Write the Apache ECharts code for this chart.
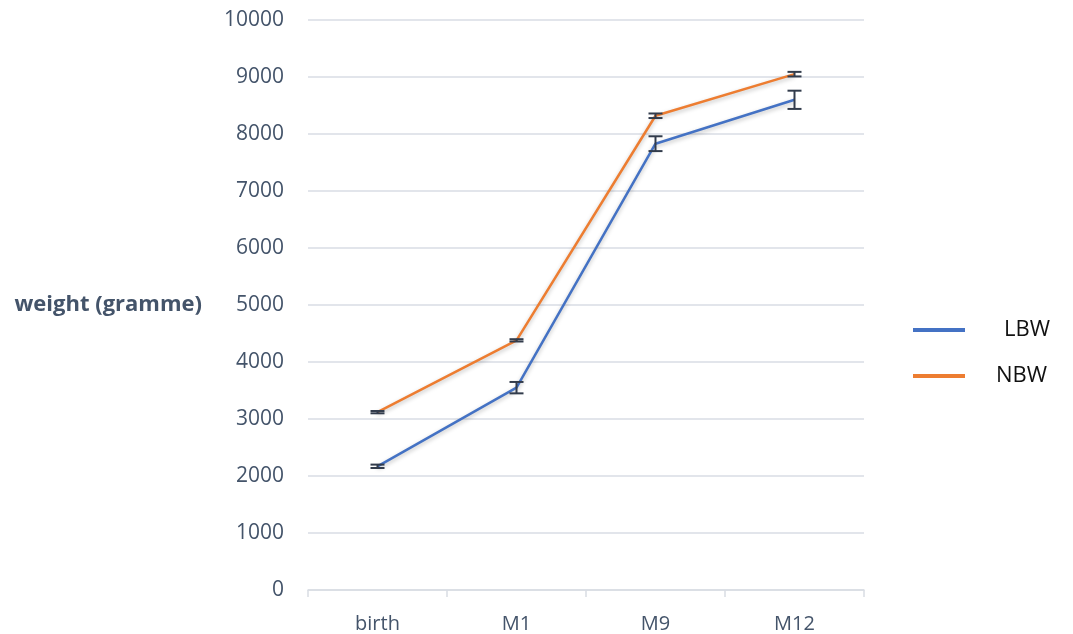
<!DOCTYPE html>
<html>
<head>
<meta charset="utf-8">
<script src="https://cdn.jsdelivr.net/npm/echarts@6/dist/echarts.min.js"></script>
<style>
  html, body { margin: 0; padding: 0; background: #fff; }
  #chart { width: 1073px; height: 634px; }
</style>
</head>
<body>
<div id="chart"></div>
<script>
const categories = ['birth', 'M1', 'M9', 'M12']
const lbwValues = [2170, 3550, 7830, 8600]
const lbwErrors = [30, 100, 130, 160]
const nbwValues = [3120, 4380, 8320, 9050]
const nbwErrors = [20, 20, 40, 40]

const axisColor = '#44546a'
const gridColor = '#d9dde4'

function errorData(values, errors) {
  return values.map((v, i) => [i, v - errors[i], v + errors[i]])
}

function renderError(params, api) {
  const lo = api.coord([api.value(0), api.value(1)])
  const hi = api.coord([api.value(0), api.value(2)])
  const w = 7
  const style = { stroke: '#323c4c', lineWidth: 2 }
  return {
    type: 'group',
    children: [
      { type: 'line', shape: { x1: lo[0], y1: lo[1], x2: hi[0], y2: hi[1] }, style: style },
      { type: 'line', shape: { x1: lo[0] - w, y1: lo[1], x2: lo[0] + w, y2: lo[1] }, style: style },
      { type: 'line', shape: { x1: hi[0] - w, y1: hi[1], x2: hi[0] + w, y2: hi[1] }, style: style }
    ]
  }
}

const chart = echarts.init(document.getElementById('chart'))

const lineShadow = {
  width: 2.5,
  shadowColor: 'rgba(0,0,0,0.25)',
  shadowBlur: 4,
  shadowOffsetY: 2
}

chart.setOption({
  animation: false,
  textStyle: { fontFamily: '"Open Sans", "Noto Sans", sans-serif' },
  grid: { left: 308, right: 209, top: 20, bottom: 44 },
  legend: {
    orient: 'vertical',
    left: 908,
    top: 314,
    itemWidth: 52,
    itemHeight: 4,
    itemGap: 24,
    icon: 'rect',
    data: [
      { name: 'LBW', textStyle: { padding: [0, 0, 0, 34] } },
      { name: 'NBW', textStyle: { padding: [0, 0, 0, 26] } }
    ],
    textStyle: { fontSize: 22, color: '#111' }
  },
  xAxis: {
    type: 'category',
    data: categories,
    boundaryGap: true,
    axisLine: { lineStyle: { color: gridColor, width: 1.5 } },
    axisTick: { show: true, length: 7, lineStyle: { color: gridColor, width: 1.5 } },
    axisLabel: { color: axisColor, fontSize: 20, margin: 24 }
  },
  yAxis: {
    type: 'value',
    min: 0,
    max: 10000,
    interval: 1000,
    name: 'weight (gramme)',
    nameLocation: 'middle',
    nameRotate: 0,
    nameGap: 106,
    nameTextStyle: { color: axisColor, fontSize: 22, fontWeight: 'bold', align: 'right' },
    axisLine: { show: false },
    axisTick: { show: false },
    axisLabel: { color: axisColor, fontSize: 21, margin: 24, formatter: v => String(v) },
    splitLine: { lineStyle: { color: gridColor, width: 1.5 } }
  },
  series: [
    {
      name: 'LBW',
      type: 'line',
      data: lbwValues,
      symbol: 'none',
      color: '#4472c4',
      lineStyle: Object.assign({ color: '#4472c4' }, lineShadow),
      z: 3
    },
    {
      name: 'NBW',
      type: 'line',
      data: nbwValues,
      symbol: 'none',
      color: '#ed7d31',
      lineStyle: Object.assign({ color: '#ed7d31' }, lineShadow),
      z: 3
    },
    {
      name: 'LBW err',
      type: 'custom',
      renderItem: renderError,
      data: errorData(lbwValues, lbwErrors),
      encode: { x: 0, y: [1, 2] },
      z: 4
    },
    {
      name: 'NBW err',
      type: 'custom',
      renderItem: renderError,
      data: errorData(nbwValues, nbwErrors),
      encode: { x: 0, y: [1, 2] },
      z: 4
    }
  ]
})
</script>
</body>
</html>
